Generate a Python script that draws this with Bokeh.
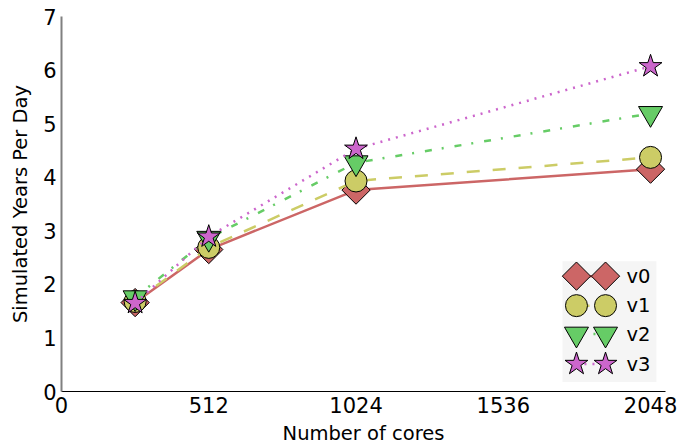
import numpy as np
from bokeh.plotting import figure
from bokeh.models import Range1d, FixedTicker, ColumnDataSource, Title
from bokeh.core.properties import value
from bokeh.embed import file_html
from bokeh.resources import INLINE

# Throughput measurements: simulated years per wall-clock day
cores = [256, 512, 1024, 2048]
v0 = [1.66, 2.65, 3.76, 4.15]
v1 = [1.68, 2.69, 3.93, 4.37]
v2 = [1.75, 2.86, 4.27, 5.19]
v3 = [1.65, 2.89, 4.53, 6.07]

labels = ["v0", "v1", "v2", "v3"]
x_ticks = [0, 512, 1024, 1536, 2048]
y_ticks = [0, 1, 2, 3, 4, 5, 6, 7]

FONT = "DejaVu Sans"
X_END, Y_END = 2100, 7

series = [
    dict(y=v0, color="#cc6666", dash="solid", marker="square", size=20, angle=np.pi / 4),
    dict(y=v1, color="#cccc66", dash="13 13", marker="circle", size=22, angle=0.0),
    dict(y=v2, color="#66cc66", dash="7 10 2 11", marker="inverted_triangle", size=24, angle=0.0),
    dict(y=v3, color="#cc66cc", dash="2 6", marker="star", size=24, angle=0.0),
]

p = figure(
    width=678, height=448,
    x_range=Range1d(0, X_END), y_range=Range1d(0, Y_END),
    output_backend="svg", toolbar_location=None,
    min_border_left=61, min_border_right=13, min_border_top=16, min_border_bottom=56,
)
p.outline_line_color = None
p.xgrid.visible = False
p.ygrid.visible = False
p.background_fill_color = "white"
p.border_fill_color = "white"

p.xaxis.ticker = FixedTicker(ticks=x_ticks)
p.yaxis.ticker = FixedTicker(ticks=y_ticks)
p.yaxis.axis_label = "Simulated Years Per Day"
for ax in (p.xaxis, p.yaxis):
    ax.major_tick_out = 0
    ax.major_tick_in = 0
    ax.minor_tick_out = 0
    ax.minor_tick_in = 0
    ax.major_label_text_font = FONT
    ax.major_label_text_font_size = "21px"
    ax.major_label_text_color = "black"
    ax.axis_label_text_font = FONT
    ax.axis_label_text_font_size = "19.5px"
    ax.axis_label_text_font_style = "normal"
    ax.axis_label_text_color = "black"
p.xaxis.axis_line_color = "black"
p.xaxis.axis_line_width = 1
p.yaxis.axis_line_color = "#808080"
p.yaxis.axis_line_width = 2
p.xaxis.major_label_standoff = 5
p.yaxis.major_label_standoff = 5
p.yaxis.axis_label_standoff = 8

# x-axis title, stacked under the tick labels
p.add_layout(Title(
    text="Number of cores", align="center", standoff=8,
    text_font=FONT, text_font_size="19.5px", text_font_style="normal", text_color="black",
), "below")

# data lines with markers, each series drawn line-then-markers
for s in series:
    src = ColumnDataSource(dict(x=cores, y=s["y"]))
    p.line("x", "y", source=src, line_color=s["color"], line_width=2.5, line_dash=s["dash"])
    p.scatter("x", "y", source=src, marker=s["marker"], size=s["size"], angle=s["angle"],
              fill_color=s["color"], line_color="black", line_width=1)

# legend box in the lower right, placed by fractions of the plotting frame
def fx(f):
    return f * X_END

def fy(f):
    return f * Y_END

p.quad(left=fx(0.8295), right=fx(0.985), bottom=fy(0.0253), top=fy(0.3475),
       fill_color="#f5f5f5", line_color=None)
row_f = [0.3076, 0.2290, 0.1531, 0.0732]
col_a, col_b, col_t = 0.8526, 0.9007, 0.9354
for s, lab, rf in zip(series, labels, row_f):
    lx = [fx(col_a), fx(col_b)]
    ly = [fy(rf), fy(rf)]
    p.line(lx, ly, line_color=s["color"], line_width=2.5, line_dash=s["dash"])
    p.scatter(lx, ly, marker=s["marker"], size=s["size"], angle=s["angle"],
              fill_color=s["color"], line_color="black", line_width=1)
    p.text([fx(col_t)], [fy(rf)], text=[lab], text_font=value(FONT), text_font_size="19.5px",
           text_baseline="middle", text_align="left", text_color="black")

open("out.html", "w").write(file_html(p, INLINE))
